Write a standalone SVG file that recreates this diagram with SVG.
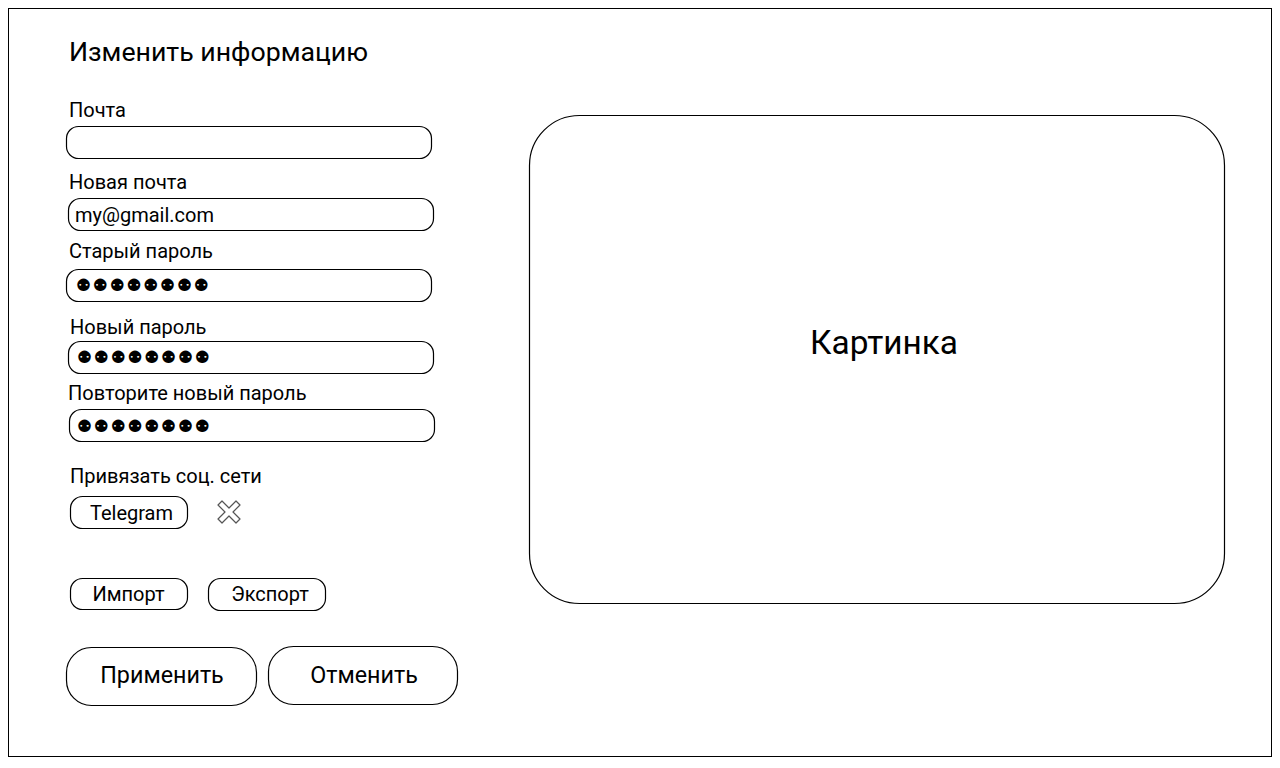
<svg xmlns="http://www.w3.org/2000/svg" width="1280" height="768" viewBox="0 0 1280 768">
<style>
text{font-family:Roboto,"Liberation Sans",sans-serif;fill:#000}
.box{fill:#fff;stroke:#000;stroke-width:1.2}
.lbl{font-size:20px}
.fld{font-size:20px}
.dots{font-family:"DejaVu Sans",sans-serif;font-size:17px}
.btn{font-size:20px;text-anchor:middle}
.big{font-size:23.3px;text-anchor:middle}
</style>
<rect x="0" y="0" width="1280" height="768" fill="#fff"/>
<rect x="8.5" y="8.5" width="1263" height="748" fill="#fff" stroke="#000" stroke-width="1"/>
<g id="title"><text x="69" y="61" style="font-size:26.7px">Изменить информацию</text></g>
<g id="email">
<text class="lbl" x="69" y="117">Почта</text>
<rect class="box" x="66.5" y="126.5" width="365" height="32" rx="12"/>
</g>
<g id="new-email">
<text class="lbl" x="69" y="189">Новая почта</text>
<rect class="box" x="68.5" y="198.5" width="365" height="32" rx="12"/>
<text class="fld" x="75" y="221.5">my@gmail.com</text>
</g>
<g id="old-pass">
<text class="lbl" x="69" y="258">Старый пароль</text>
<rect class="box" x="66.5" y="269.5" width="365" height="32" rx="12"/>
<text class="dots" x="76" y="291" textLength="133" lengthAdjust="spacing">⚉⚉⚉⚉⚉⚉⚉⚉</text>
</g>
<g id="new-pass">
<text class="lbl" x="70" y="334">Новый пароль</text>
<rect class="box" x="68.5" y="341.5" width="365" height="32" rx="12"/>
<text class="dots" x="77" y="363" textLength="133" lengthAdjust="spacing">⚉⚉⚉⚉⚉⚉⚉⚉</text>
</g>
<g id="repeat-pass">
<text class="lbl" x="68" y="400">Повторите новый пароль</text>
<rect class="box" x="69.5" y="409.5" width="365" height="32" rx="12"/>
<text class="dots" x="77" y="432" textLength="133" lengthAdjust="spacing">⚉⚉⚉⚉⚉⚉⚉⚉</text>
</g>
<g id="social">
<text class="lbl" x="70" y="482.5">Привязать соц. сети</text>
</g>
<g id="telegram">
<rect class="box" x="70.5" y="496.5" width="117" height="32" rx="12"/>
<text class="btn" x="131.5" y="519.5">Telegram</text>
</g>
<g id="unlink">
<path d="M229 508 L236 501 L240 505 L233 512 L240 519 L236 523 L229 516 L222 523 L218 519 L225 512 L218 505 L222 501 Z" fill="#fff" stroke="#555" stroke-width="1.2" stroke-linejoin="round"/>
</g>
<g id="import">
<rect class="box" x="70.5" y="578.5" width="117" height="31" rx="12"/>
<text class="btn" x="128.5" y="600.5">Импорт</text>
</g>
<g id="export">
<rect class="box" x="208.5" y="578.5" width="117" height="32" rx="12"/>
<text class="btn" x="270" y="600.5">Экспорт</text>
</g>
<g id="apply">
<rect class="box" x="66.5" y="647.5" width="190" height="58" rx="25"/>
<text class="big" x="162" y="683">Применить</text>
</g>
<g id="cancel">
<rect class="box" x="268.5" y="646.5" width="189" height="58" rx="25"/>
<text class="big" x="364" y="683">Отменить</text>
</g>
<g id="picture">
<rect class="box" x="529.5" y="115.5" width="695" height="488" rx="50"/>
<text x="884" y="354" style="font-size:33.4px;text-anchor:middle">Картинка</text>
</g>
<g id="connectors"/>
</svg>
